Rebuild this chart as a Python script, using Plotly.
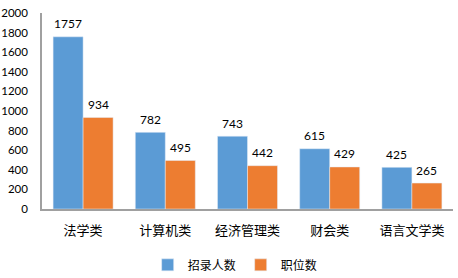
import plotly.graph_objects as go

categories = ["法学类", "计算机类", "经济管理类", "财会类", "语言文学类"]
recruits = [1757, 782, 743, 615, 425]
positions = [934, 495, 442, 429, 265]
y_ticks = [0, 200, 400, 600, 800, 1000, 1200, 1400, 1600, 1800, 2000]

font_fam = "Lato, 'Noto Sans CJK SC', sans-serif"
cjk = "'Noto Sans CJK SC', sans-serif"

fig = go.Figure()
fig.add_trace(go.Bar(x=categories, y=recruits, name="招录人数", marker_color="#5B9BD5"))
fig.add_trace(go.Bar(x=categories, y=positions, name="职位数", marker_color="#ED7D31"))

for series, shift in ((recruits, -15), (positions, 15)):
    for c, v in zip(categories, series):
        fig.add_annotation(x=c, y=v, text=str(v), showarrow=False, xshift=shift, yshift=13,
                           yanchor="middle", font=dict(family=font_fam, size=12, color="#000000"))

fig.update_layout(
    width=458, height=278,
    margin=dict(l=42, r=5, t=13, b=69, autoexpand=False),
    barmode="group", bargap=0.27, bargroupgap=0,
    plot_bgcolor="white", paper_bgcolor="white",
    showlegend=True,
    legend=dict(orientation="h", x=0.47, xanchor="center", y=-0.285, yanchor="middle",
                font=dict(family=cjk, size=12, color="#000000"),
                itemwidth=30, traceorder="normal", tracegroupgap=0),
)
fig.update_xaxes(showline=True, linecolor="#A0A0A0", linewidth=1.5, showgrid=False, automargin=False,
                 tickfont=dict(family=cjk, size=13, color="#000000"), ticks="", ticklabelstandoff=9)
fig.update_yaxes(range=[0, 2000], tickvals=y_ticks, showline=True, linecolor="#A0A0A0", linewidth=1.5,
                 showgrid=False, zeroline=False, ticks="", automargin=False,
                 tickfont=dict(family=font_fam, size=11.5, color="#000000"), ticklabelstandoff=10)

fig.write_html("out.html")
